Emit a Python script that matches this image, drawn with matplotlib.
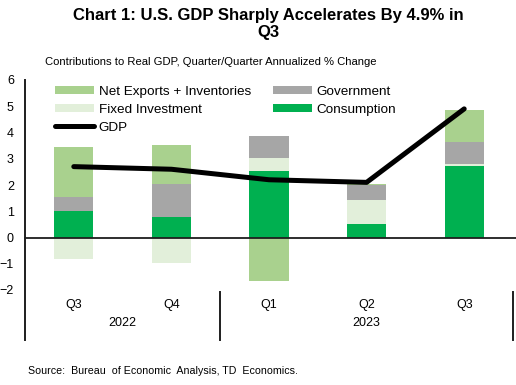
import numpy as np
import matplotlib
matplotlib.use('Agg')
from matplotlib import pyplot as plt

plt.rcParams['font.family'] = ['Liberation Sans', 'DejaVu Sans']

# data
quarters = ['Q3', 'Q4', 'Q1', 'Q2', 'Q3']
years = ['2022', '2023']
year_centers = [0.5, 3.0]
year_breaks = [-0.5, 1.5, 4.5]

consumption = [1.02, 0.80, 2.55, 0.52, 2.71]
fixed_inv = [-0.80, -0.99, 0.48, 0.92, 0.10]
government = [0.51, 1.22, 0.85, 0.57, 0.82]
net_exports = [1.93, 1.52, -1.64, 0.04, 1.24]
gdp = [2.7, 2.6, 2.2, 2.1, 4.9]

series = [
    ('Consumption', consumption, '#00B050'),
    ('Fixed Investment', fixed_inv, '#E2EFDA'),
    ('Government', government, '#A6A6A6'),
    ('Net Exports + Inventories', net_exports, '#A9D18E'),
]

fig = plt.figure(figsize=(5.16, 3.85), dpi=100)
ax = fig.add_axes([25/516, 1-290/385, 488/516, 210/385])

x = np.arange(len(quarters))
pos_bot = np.zeros(len(x))
neg_bot = np.zeros(len(x))
bars = {}
for name, vals, col in series:
    vals = np.array(vals)
    bottom = np.where(vals >= 0, pos_bot, neg_bot)
    bars[name] = ax.bar(x, vals, 0.4, bottom=bottom, color=col, label=name, zorder=2)
    pos_bot = pos_bot + np.where(vals >= 0, vals, 0)
    neg_bot = neg_bot + np.where(vals < 0, vals, 0)

line, = ax.plot(x, gdp, color='black', lw=3.6, solid_capstyle='round', label='GDP', zorder=3)

ax.set_xlim(-0.5, 4.5)
ax.set_ylim(-2, 6)
ax.set_yticks(range(-2, 7))
ax.set_xticks([])
ax.tick_params(axis='y', length=0, pad=8, labelsize=9)
for s in ax.spines.values():
    s.set_visible(False)

axcol = '#1e1e1e'
ax.axhline(0, color=axcol, lw=1.3, zorder=4, xmax=1.006, clip_on=False)
# category axis below the plot
tr = ax.get_xaxis_transform()
ax.plot([-0.5, -0.5], [1.0, -0.238], color=axcol, lw=1.4, transform=tr, clip_on=False)
for xb in year_breaks[1:]:
    ax.plot([xb, xb], [-0.01, -0.238], color=axcol, lw=1.4, transform=tr, clip_on=False)
for xi, q in zip(x, quarters):
    ax.text(xi, -0.072, q, transform=tr, ha='center', va='center', fontsize=9)
for xc, yr in zip(year_centers, years):
    ax.text(xc, -0.155, yr, transform=tr, ha='center', va='center', fontsize=9)

handles = [bars['Net Exports + Inventories'], bars['Fixed Investment'], line,
           bars['Government'], bars['Consumption']]
labels = ['Net Exports + Inventories', 'Fixed Investment', 'GDP',
          'Government', 'Consumption']
fig.legend(handles, labels, ncol=2, loc='upper left',
           bbox_to_anchor=(55/516, 1-86/385), frameon=False, fontsize=9.7,
           handlelength=2.9, handleheight=0.55, handletextpad=0.35,
           columnspacing=1.6, labelspacing=0.43, borderaxespad=0, borderpad=0)

fig.text(0.52, 1-24/385, 'Chart 1: U.S. GDP Sharply Accelerates By 4.9% in\nQ3',
         ha='center', va='center', fontsize=12, fontweight='bold', linespacing=1.1)
fig.text(45/516, 1-62/385, 'Contributions to Real GDP, Quarter/Quarter Annualized % Change',
         ha='left', va='center', fontsize=8.1)
fig.text(28/516, 1-371.5/385, 'Source:  Bureau  of Economic  Analysis, TD  Economics.',
         ha='left', va='center', fontsize=7.7)

fig.savefig('out.png', dpi=100)
